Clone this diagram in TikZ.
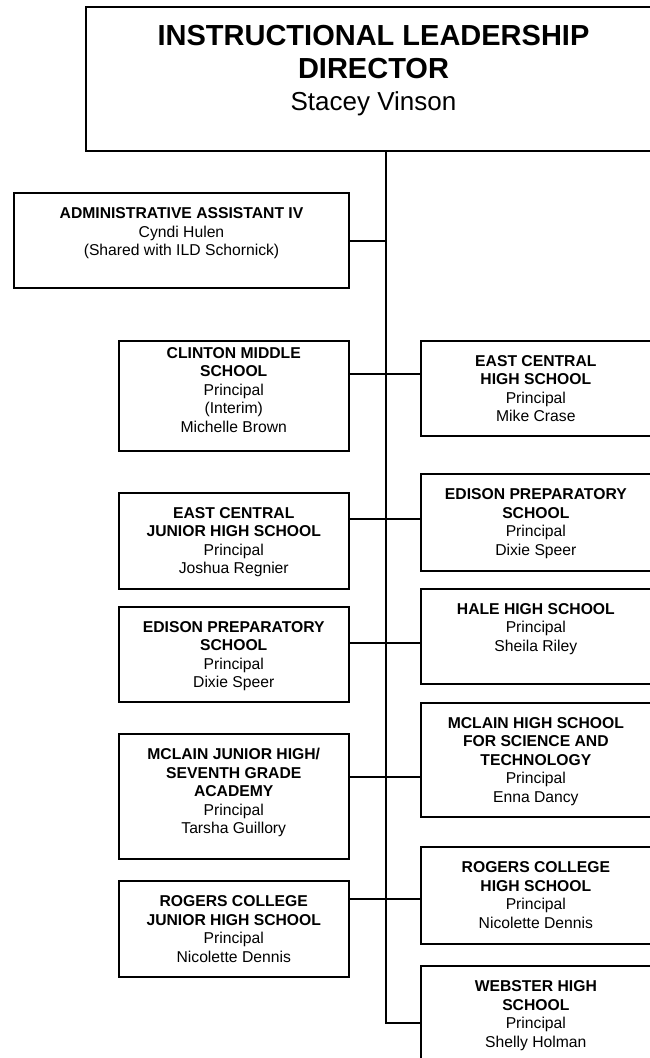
\documentclass[tikz,border=0pt]{standalone}
\usepackage{fontspec}
\setmainfont{Liberation Sans}
\usetikzlibrary{positioning}

\begin{document}
\begin{tikzpicture}[x=1pt, y=-1pt,
    box/.style={shape=rectangle, draw=black, line width=2pt, outer sep=0pt},
    lbox/.style={box, minimum width=230.5pt},
    rbox/.style={box, minimum width=230.3pt},
    txt/.style={align=center, inner sep=0pt, font=\fontsize{15.7}{18.5}\selectfont},
    link/.style={draw=black, line width=1.8pt}]

      \useasboundingbox (0,0) rectangle (650,1058);
      \clip (0,0) rectangle (650,1058);

      \node[box, minimum width=575pt, minimum height=144pt] (ild) at (373.5,79) {};
      \node[box, minimum width=335pt, minimum height=95pt] (admin) at (181.5,240.5) {};

      \node[lbox, minimum height=110pt] (clinton) at (233.75,395.7) {};
      \node[lbox, minimum height=96pt] (ecjhs) at (233.75,540.7) {};
      \node[lbox, minimum height=95.6pt] (edisonl) at (233.75,654.5) {};
      \node[lbox, minimum height=125pt] (mclainjh) at (233.75,796.5) {};
      \node[lbox, minimum height=95.7pt] (rogersjh) at (233.75,928.85) {};

      \node[rbox, minimum height=95pt] (echs) at (535.85,388.2) {};
      \node[rbox, minimum height=96.4pt] (edisonr) at (535.85,522.5) {};
      \node[rbox, minimum height=95.6pt] (hale) at (535.85,636.5) {};
      \node[rbox, minimum height=114pt] (mclainhs) at (535.85,759.7) {};
      \node[rbox, minimum height=96.7pt] (rogershs) at (535.85,895.65) {};
      \node[rbox, minimum height=96pt] (webster) at (535.85,1014) {};

      % texts
      \node[txt, font=\fontsize{29}{33.5}\selectfont\bfseries, below=18pt of ild.north] (ild-t)
        {INSTRUCTIONAL LEADERSHIP\\DIRECTOR\\[-2pt]{\fontsize{26}{30}\mdseries\selectfont Stacey Vinson}};
      \node[txt, below=14.4pt of admin.north] (admin-t)
        {\textbf{ADMINISTRATIVE ASSISTANT IV}\\Cyndi Hulen\\(Shared with ILD Schornick)};
      \node[txt, below=6.5pt of clinton.north] (clinton-t)
        {\textbf{CLINTON MIDDLE}\\\textbf{SCHOOL}\\Principal\\(Interim)\\Michelle Brown};
      \node[txt, below=14.4pt of ecjhs.north] (ecjhs-t)
        {\textbf{EAST CENTRAL}\\\textbf{JUNIOR HIGH SCHOOL}\\Principal\\Joshua Regnier};
      \node[txt, below=14.4pt of edisonl.north] (edisonl-t)
        {\textbf{EDISON PREPARATORY}\\\textbf{SCHOOL}\\Principal\\Dixie Speer};
      \node[txt, below=14.4pt of mclainjh.north] (mclainjh-t)
        {\textbf{MCLAIN JUNIOR HIGH/}\\\textbf{SEVENTH GRADE}\\\textbf{ACADEMY}\\Principal\\Tarsha Guillory};
      \node[txt, below=14.4pt of rogersjh.north] (rogersjh-t)
        {\textbf{ROGERS COLLEGE}\\\textbf{JUNIOR HIGH SCHOOL}\\Principal\\Nicolette Dennis};
      \node[txt, below=14.4pt of echs.north] (echs-t)
        {\textbf{EAST CENTRAL}\\\textbf{HIGH SCHOOL}\\Principal\\Mike Crase};
      \node[txt, below=14.4pt of edisonr.north] (edisonr-t)
        {\textbf{EDISON PREPARATORY}\\\textbf{SCHOOL}\\Principal\\Dixie Speer};
      \node[txt, below=14.4pt of hale.north] (hale-t)
        {\textbf{HALE HIGH SCHOOL}\\Principal\\Sheila Riley};
      \node[txt, below=14.4pt of mclainhs.north] (mclainhs-t)
        {\textbf{MCLAIN HIGH SCHOOL}\\\textbf{FOR SCIENCE AND}\\\textbf{TECHNOLOGY}\\Principal\\Enna Dancy};
      \node[txt, below=14.4pt of rogershs.north] (rogershs-t)
        {\textbf{ROGERS COLLEGE}\\\textbf{HIGH SCHOOL}\\Principal\\Nicolette Dennis};
      \node[txt, below=14.4pt of webster.north] (webster-t)
        {\textbf{WEBSTER HIGH}\\\textbf{SCHOOL}\\Principal\\Shelly Holman};

      % trunk junctions
      \coordinate (j0) at (386,240.7);
      \coordinate (j1) at (386,374);
      \coordinate (j2) at (386,519);
      \coordinate (j3) at (386,642.7);
      \coordinate (j4) at (386,776.7);
      \coordinate (j5) at (386,899);
      \coordinate (j6) at (386,1022.7);

      \path [link] (ild.south -| j0) -- (j6) -- (j6 -| webster.west);
      \path [link] (admin.east |- j0) -- (j0);
      \path [link] (clinton.east |- j1) -- (echs.west |- j1);
      \path [link] (ecjhs.east |- j2) -- (edisonr.west |- j2);
      \path [link] (edisonl.east |- j3) -- (hale.west |- j3);
      \path [link] (mclainjh.east |- j4) -- (mclainhs.west |- j4);
      \path [link] (rogersjh.east |- j5) -- (rogershs.west |- j5);

\end{tikzpicture}
\end{document}
